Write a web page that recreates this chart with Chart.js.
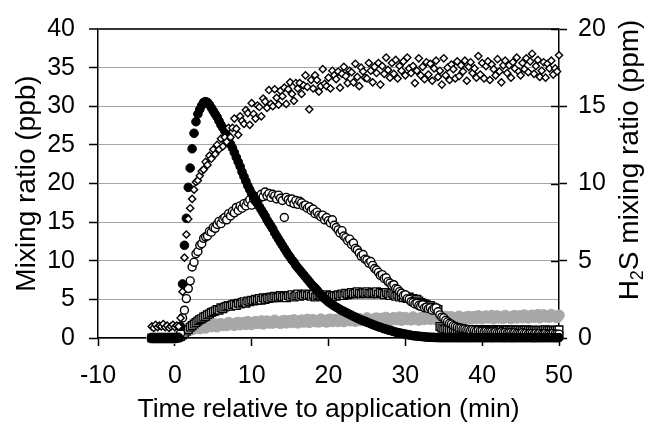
<!DOCTYPE html>
<html>
<head>
<meta charset="utf-8">
<script src="https://cdn.jsdelivr.net/npm/chart.js@4.4.1/dist/chart.umd.min.js"></script>
<style>
  html, body { margin: 0; padding: 0; background: #fff; }
  canvas { display: block; }
</style>
</head>
<body>
<canvas id="chart" width="645" height="427"></canvas>
<script>
// sample times (min), one every 15 s
const time = [
  -3,-2.75,-2.5,-2.25,-2,-1.75,-1.5,-1.25,
  -1,-0.75,-0.5,-0.25,0,0.25,0.5,0.75,
  1,1.25,1.5,1.75,2,2.25,2.5,2.75,
  3,3.25,3.5,3.75,4,4.25,4.5,4.75,
  5,5.25,5.5,5.75,6,6.25,6.5,6.75,
  7,7.25,7.5,7.75,8,8.25,8.5,8.75,
  9,9.25,9.5,9.75,10,10.25,10.5,10.75,
  11,11.25,11.5,11.75,12,12.25,12.5,12.75,
  13,13.25,13.5,13.75,14,14.25,14.5,14.75,
  15,15.25,15.5,15.75,16,16.25,16.5,16.75,
  17,17.25,17.5,17.75,18,18.25,18.5,18.75,
  19,19.25,19.5,19.75,20,20.25,20.5,20.75,
  21,21.25,21.5,21.75,22,22.25,22.5,22.75,
  23,23.25,23.5,23.75,24,24.25,24.5,24.75,
  25,25.25,25.5,25.75,26,26.25,26.5,26.75,
  27,27.25,27.5,27.75,28,28.25,28.5,28.75,
  29,29.25,29.5,29.75,30,30.25,30.5,30.75,
  31,31.25,31.5,31.75,32,32.25,32.5,32.75,
  33,33.25,33.5,33.75,34,34.25,34.5,34.75,
  35,35.25,35.5,35.75,36,36.25,36.5,36.75,
  37,37.25,37.5,37.75,38,38.25,38.5,38.75,
  39,39.25,39.5,39.75,40,40.25,40.5,40.75,
  41,41.25,41.5,41.75,42,42.25,42.5,42.75,
  43,43.25,43.5,43.75,44,44.25,44.5,44.75,
  45,45.25,45.5,45.75,46,46.25,46.5,46.75,
  47,47.25,47.5,47.75,48,48.25,48.5,48.75,
  49,49.25,49.5,49.75,50
];

// filled black circles (ppb)
const blackCircles = [
  0,0,0,0,0,0,0,0,
  0,0,0,0,0,0,0.1,1.5,
  7,12,15.5,19.5,22,24.5,26.5,28,
  29,29.6,30.1,30.5,30.6,30.5,30.2,29.8,
  29.4,29,28.6,28.1,27.6,27.2,26.8,26.3,
  25.7,25.1,24.6,24,23.4,22.8,22.2,21.5,
  20.9,20.3,19.7,19.2,18.7,18.3,17.8,17.4,
  17,16.6,16.2,15.8,15.3,14.9,14.5,14.1,
  13.6,13.2,12.8,12.4,12,11.6,11.2,10.8,
  10.5,10.1,9.8,9.4,9.1,8.8,8.5,8.2,
  7.9,7.6,7.3,7,6.7,6.5,6.2,5.9,
  5.6,5.4,5.1,4.9,4.65,4.5,4.3,4.15,
  4,3.85,3.7,3.55,3.45,3.3,3.2,3.05,
  2.95,2.8,2.7,2.55,2.45,2.35,2.25,2.15,
  2.05,1.95,1.85,1.75,1.65,1.55,1.45,1.4,
  1.3,1.2,1.15,1.05,1,0.9,0.85,0.75,
  0.7,0.65,0.6,0.55,0.5,0.45,0.4,0.35,
  0.3,0.28,0.25,0.22,0.2,0.18,0.15,0.12,
  0.1,0.1,0.08,0.08,0.06,0.06,0.05,0.05,
  0.05,0.05,0.04,0.05,0.05,0.04,0.05,0.05,
  0.04,0.05,0.05,0.04,0.05,0.04,0.05,0.04,
  0.05,0.04,0.05,0.05,0.04,0.05,0.04,0.05,
  0.05,0.04,0.04,0.05,0.05,0.04,0.05,0.04,
  0.04,0.05,0.05,0.04,0.04,0.05,0.04,0.05,
  0.05,0.04,0.05,0.04,0.05,0.05,0.04,0.04,
  0.04,0.05,0.04,0.05,0.04,0.05,0.05,0.04,
  0.05,0.04,0.05,0.04,0.05
];

// open circles (ppb)
const openCircles = [
  0,0,0,0,0,0,0,0,
  0,0,0,0,0,0,0.1,0.6,
  2.6,3.6,5.1,6.4,7.4,9.2,9.8,10.9,
  11.2,12,12.2,12.9,13.1,13.2,13.8,13.7,
  14.3,14.2,14.7,15.1,14.8,15.4,15.6,15.3,
  16.1,15.8,16.4,16.2,16.9,16.5,17.1,16.8,
  17.4,17.1,17.6,17.9,17.2,18,17.7,18.3,
  18.1,18.6,18.3,18.9,18.4,18.7,18.2,18.6,
  18.4,18,18.5,18.1,17.8,15.6,18.2,17.9,
  17.6,18,17.4,17.8,17.3,17.7,17.5,17.1,
  17.2,16.8,17,16.5,16.7,16.1,16.3,15.9,
  15.7,15.9,15.3,15.6,15.2,14.9,15.3,14.6,
  14.3,14,13.6,13.9,13.2,13,12.6,12.8,
  12.1,12.3,11.6,11.4,11,10.6,10.8,10.2,
  10.1,9.7,9.9,9.4,9,8.8,8.5,8.1,
  8.2,7.7,7.8,7.3,7.1,6.8,6.9,6.4,
  6.3,6,5.8,5.5,5.6,5.1,5,4.7,
  4.6,4.4,4.5,4.2,4.1,4.3,3.9,4,
  3.8,3.9,3.6,3.8,3.9,3.4,3,2.7,
  2.6,2.3,2.1,1.9,1.8,1.6,1.5,1.4,
  1.3,1.3,1.2,1.2,1.1,1.1,1,1.1,
  1,0.9,1,0.9,0.9,0.8,0.9,0.8,
  0.8,0.8,0.7,0.8,0.7,0.7,0.8,0.7,
  0.7,0.6,0.7,0.7,0.6,0.7,0.6,0.6,
  0.6,0.7,0.6,0.6,0.5,0.6,0.6,0.5,
  0.6,0.5,0.6,0.5,0.5,0.6,0.5,0.5,
  0.5,0.6,0.5,0.5,0.5
];

// open squares (ppb)
const openSquares = [
  0,0,0,0,0,0,0,0,
  0,0,0,0,0,0,0.1,0.2,
  0.4,0.6,0.9,1.1,1.4,1.6,1.8,2,
  2.2,2.4,2.5,2.7,2.8,3,3.1,3.3,
  3.4,3.5,3.7,3.6,3.9,3.8,4,4.1,
  4.2,4.1,4.3,4.4,4.2,4.5,4.4,4.6,
  4.7,4.5,4.8,4.7,4.9,4.8,5,4.9,
  5.1,4.9,5.2,5,5.2,5.1,5.3,5.2,
  5.4,5.2,5.3,5.5,5.3,5.4,5.2,5.5,
  5.4,5.6,5.3,5.5,5.7,5.4,5.6,5.5,
  5.7,5.5,5.6,5.4,5.6,5.3,5.5,5.6,
  5.4,5.5,5.3,5.6,5.4,5.5,5.3,5.5,
  5.4,5.6,5.5,5.7,5.5,5.8,5.6,5.7,
  5.9,5.7,5.8,6,5.8,5.7,5.9,5.8,
  6,5.8,5.7,5.9,5.8,6,5.7,5.9,
  5.8,5.6,5.9,5.7,5.5,5.8,5.6,5.4,
  5.6,5.3,5.5,5.2,5.4,5.1,5.3,5,
  5.1,4.9,5,4.8,4.6,4.5,4.4,4.3,
  4.1,4.2,4,3.9,3.8,3.7,1.5,1.3,
  1.1,1.2,1.1,1.05,1.1,1.15,1.05,1.1,
  1.1,1.05,1.1,1,1.1,1.05,1,1.1,
  1.05,1,1.1,1.05,1,1.05,1.1,1,
  1.05,1,1.05,1.1,1,1,1.05,1,
  1,1.05,1,1,1.05,0.95,1,1.05,
  1,0.95,1,1.05,1,0.95,1,1,
  0.95,1,1,0.95,1,1.05,0.95,1,
  1,0.95,1,1,1.05
];

// grey filled circles (ppb)
const greyCircles = [
  0,0,0,0,0,0,0,0,
  0,0,0,0,0,0.1,0.25,0.4,
  0.55,0.7,0.85,0.95,1.05,1.1,1.2,1.25,
  1.4,1.2,1.6,1.45,1.3,1.57,1.7,1.47,
  1.55,1.82,1.45,1.77,1.85,1.62,1.75,1.62,
  2,1.81,1.72,1.64,1.95,2.01,1.72,1.94,
  2,1.76,2.12,1.94,1.75,2.01,2.12,1.89,
  1.95,2.21,1.82,2.13,2.19,1.95,2.07,1.93,
  2.3,2.1,2,1.9,2.2,2.26,1.96,2.17,
  2.25,2,2.35,2.16,1.96,2.21,2.32,2.07,
  2.15,2.41,2.01,2.31,2.37,2.12,2.23,2.08,
  2.45,2.26,2.16,2.07,2.38,2.43,2.14,2.35,
  2.4,2.15,2.51,2.32,2.12,2.37,2.48,2.23,
  2.3,2.56,2.16,2.46,2.52,2.27,2.38,2.23,
  2.6,2.41,2.31,2.22,2.52,2.57,2.28,2.48,
  2.55,2.31,2.66,2.47,2.27,2.52,2.63,2.38,
  2.45,2.7,2.3,2.6,2.65,2.4,2.5,2.35,
  2.72,2.52,2.43,2.33,2.63,2.69,2.4,2.6,
  2.67,2.42,2.78,2.58,2.39,2.64,2.75,2.5,
  2.55,2.8,2.4,2.7,2.75,2.5,2.6,2.45,
  2.82,2.62,2.53,2.43,2.73,2.79,2.5,2.7,
  2.77,2.52,2.88,2.68,2.49,2.74,2.85,2.6,
  2.65,2.9,2.5,2.8,2.85,2.6,2.7,2.55,
  2.92,2.72,2.63,2.53,2.83,2.89,2.6,2.8,
  2.87,2.62,2.98,2.78,2.6,2.85,2.95,2.7,
  2.77,3.02,2.62,2.92,2.99,2.74,2.85,2.7,
  3.05,2.85,2.75,2.65,2.95
];

// H2S, open diamonds (ppm, right axis)
const h2s = [
  0.75,0.65,0.85,0.7,0.8,0.75,0.9,0.7,
  0.8,0.65,0.75,0.85,0.7,0.8,0.75,1.3,
  3,5.2,6.7,7.7,8.4,9,9.6,10.1,
  10.2,10.5,10.8,10.9,11.4,11.2,11.8,11.6,
  12.2,11.9,12.5,12.2,12.9,12.4,13,12.7,
  13.6,13,13.6,14.2,13.55,13.15,14.35,14.05,
  13.85,14.75,14.55,13.8,15.2,14.5,14.2,15.05,
  14.95,14.35,15.5,15.3,14.9,16.05,15.15,15,
  16.1,15.55,15.1,16,15.65,16.2,15.15,16.1,
  16.55,15.8,15.35,16.5,16.15,16.5,15.8,16.35,
  17,16.25,14.8,16.7,16.15,17,16.7,15.95,
  16.3,17.4,16.45,16.3,16.85,16.15,17.3,17,
  16.75,17.25,16.2,17.1,17.55,16.95,16.5,17.3,
  17.2,16.55,17.75,16.9,16.3,17.5,17.25,16.85,
  16.8,17.8,17.3,16.55,17.55,17.15,17.8,16.4,
  17.6,17.1,18.15,17.35,16.85,17.8,17.1,18,
  16.8,17.6,17.3,17.9,17,18.15,17.45,17.15,
  17.6,16.5,17.3,18.1,17,17.55,16.75,17.85,
  17.05,17.75,16.65,17.45,17.95,16.9,17.3,16.4,
  18.1,17,17.5,16.7,17.7,17.4,16.8,17.9,
  16.95,17.65,17.25,17.95,16.65,17.55,17.85,17.15,
  17.45,16.85,18.25,17.05,17.8,16.8,17.6,17.9,
  16.7,17.7,17.4,17,18.05,17.25,16.55,17.65,
  17.95,17.15,17.65,16.85,17.85,17.45,18.15,17.25,
  17,17.8,17.4,18.1,17.2,17.9,18.4,17.1,
  17.6,18,16.9,17.3,17.85,16.85,17.75,17.45,
  17.95,17.05,17.45,17.25,18.3
];

const xRange = [-10, 50];
const ppbRange = [0, 40];
const ppmRange = [0, 20];

const FONT = "'Liberation Sans', Arial, sans-serif";

function pts(values) {
  return time.map((t, i) => ({ x: t, y: values[i] }));
}

// right axis: ticks that cross the axis line, and the H2S title with a subscript
const rightAxisExtras = {
  id: "rightAxisExtras",
  afterDraw(chart) {
    const { ctx, chartArea } = chart;
    const y2 = chart.scales.y2;
    ctx.save();
    ctx.strokeStyle = "#000";
    ctx.lineWidth = 1.5;
    y2.ticks.forEach((t) => {
      const py = Math.round(y2.getPixelForValue(t.value)) + 0.5;
      ctx.beginPath();
      ctx.moveTo(chartArea.right - 8, py);
      ctx.lineTo(chartArea.right, py);
      ctx.stroke();
    });

    ctx.translate(628, 160);
    ctx.rotate(-Math.PI / 2);
    ctx.fillStyle = "#000";
    ctx.textBaseline = "alphabetic";
    ctx.textAlign = "left";
    const big = "28px " + FONT;
    const small = "18px " + FONT;
    const parts = [
      ["H", big, 0],
      ["2", small, 5],
      ["S mixing ratio (ppm)", big, 0],
    ];
    let total = 0;
    parts.forEach((p) => {
      ctx.font = p[1];
      total += ctx.measureText(p[0]).width;
    });
    let x = -total / 2;
    parts.forEach((p) => {
      ctx.font = p[1];
      ctx.fillText(p[0], x, 10 + p[2]);
      x += ctx.measureText(p[0]).width;
    });
    ctx.restore();
  },
};

new Chart(document.getElementById("chart"), {
  type: "scatter",
  data: {
    datasets: [
      {
        label: "H2S",
        data: pts(h2s),
        yAxisID: "y2",
        pointStyle: "rectRot",
        pointRadius: 3.6,
        borderWidth: 1.4,
        borderColor: "#000",
        backgroundColor: "#fff",
        clip: false,
      },
      {
        label: "filled circles",
        data: pts(blackCircles),
        yAxisID: "y",
        pointStyle: "circle",
        pointRadius: 4.3,
        borderWidth: 1,
        borderColor: "#000",
        backgroundColor: "#000",
        clip: false,
      },
      {
        label: "open circles",
        data: pts(openCircles),
        yAxisID: "y",
        pointStyle: "circle",
        pointRadius: 4,
        borderWidth: 1.4,
        borderColor: "#000",
        backgroundColor: "#fff",
        clip: false,
      },
      {
        label: "open squares",
        data: pts(openSquares),
        yAxisID: "y",
        pointStyle: "rect",
        pointRadius: 5.4,
        borderWidth: 1.4,
        borderColor: "#000",
        backgroundColor: "#fff",
        clip: false,
      },
      {
        label: "grey circles",
        data: pts(greyCircles),
        yAxisID: "y",
        pointStyle: "circle",
        pointRadius: 5.3,
        borderWidth: 1,
        borderColor: "#a8a8a8",
        backgroundColor: "#a8a8a8",
        clip: false,
      },
    ],
  },
  options: {
    responsive: false,
    animation: false,
    events: [],
    layout: { padding: { top: 18, left: 0, right: 0, bottom: 0 } },
    plugins: {
      legend: { display: false },
      tooltip: { enabled: false },
    },
    scales: {
      x: {
        type: "linear",
        min: xRange[0],
        max: xRange[1],
        ticks: {
          stepSize: 10,
          color: "#000",
          font: { family: FONT, size: 25 },
          padding: 15,
          maxRotation: 0,
        },
        grid: {
          drawOnChartArea: false,
          tickLength: 8,
          tickColor: "#000",
          tickWidth: 1.5,
        },
        border: { color: "#000", width: 1.5 },
        title: {
          display: true,
          text: "Time relative to application (min)",
          color: "#000",
          font: { family: FONT, size: 26.5 },
          padding: { top: 0, bottom: 1 },
        },
        afterFit: (s) => {
          s.height = 89;
        },
      },
      y: {
        position: "left",
        min: ppbRange[0],
        max: ppbRange[1],
        ticks: {
          stepSize: 5,
          color: "#000",
          font: { family: FONT, size: 25 },
          padding: 14,
        },
        grid: {
          color: (c) => (c.tick && c.tick.value === 40 ? "#333" : "#a4a4a4"),
          lineWidth: (c) => (c.tick && c.tick.value === 40 ? 2 : 1),
          tickLength: 9,
          tickColor: "#000",
          tickWidth: 1.5,
        },
        border: { color: "#000", width: 1.5 },
        title: {
          display: true,
          text: "Mixing ratio (ppb)",
          color: "#000",
          font: { family: FONT, size: 28 },
          padding: { top: 10, bottom: 0 },
        },
        afterFit: (s) => {
          s.width = 98;
        },
      },
      y2: {
        position: "right",
        min: ppmRange[0],
        max: ppmRange[1],
        ticks: {
          stepSize: 5,
          color: "#000",
          font: { family: FONT, size: 25 },
          padding: 11,
        },
        grid: {
          drawOnChartArea: false,
          tickLength: 8,
          tickColor: "#000",
          tickWidth: 1.5,
        },
        border: { color: "#000", width: 1.5 },
        afterFit: (s) => {
          s.width = 86;
        },
      },
    },
  },
  plugins: [rightAxisExtras],
});
</script>
</body>
</html>
